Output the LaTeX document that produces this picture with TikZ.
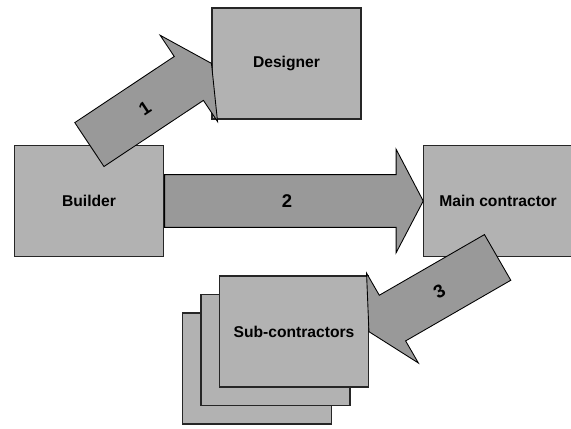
\documentclass[tikz,border=0pt]{standalone}
\usepackage{fontspec}
\setmainfont{Liberation Sans}
\usetikzlibrary{shapes.arrows,calc}

\begin{document}
\begin{tikzpicture}[
        box/.style={draw=black!85, line width=0.8pt, fill=black!30,
            minimum width=2.98cm, minimum height=2.22cm,
            font=\fontsize{8.9}{10}\selectfont\bfseries},
        fatarrow/.style={single arrow, draw=black, line width=0.5pt, fill=black!40,
            minimum width=2.06cm, single arrow head extend=0.51cm,
            single arrow tip angle=124.7, inner xsep=1pt, inner ysep=0pt,
            text height=18.5pt, text depth=11pt, anchor=tail,
            font=\fontsize{10.5}{12}\selectfont\bfseries}]
        \useasboundingbox (0,0) rectangle (11.42,8.56);
        \node[box] (designer) at (5.73,7.29) {Designer};
        \node[box] (builder) at (1.78,4.54) {Builder};
        \node[box] (main) at (9.96,4.54) {Main contractor};
        \node[box] (subback) at (5.14,1.19) {};
        \node[box] (submid) at (5.51,1.56) {};
        \node[box] (subfront) at (5.88,1.93) {Sub-contractors};
        % arrows on top of the boxes
        \path let \p1=($(designer.west)-(builder.north)$) in
            node[fatarrow, rotate={atan2(\y1,\x1)}, minimum height={veclen(\x1,\y1)}] (arrone) at (builder.north) {1};
        \path let \p1=($(main.west)-(builder.east)$) in
            node[fatarrow, minimum height={veclen(\x1,\y1)}] (arrtwo) at (builder.east) {2};
        \path let \p1=($(subfront.east)-(main.south)$) in
            node[fatarrow, shape border rotate=180, rotate={atan2(\y1,\x1)-180}, minimum height={veclen(\x1,\y1)}] (arrthree) at (main.south) {3};
    \end{tikzpicture}
\end{document}
